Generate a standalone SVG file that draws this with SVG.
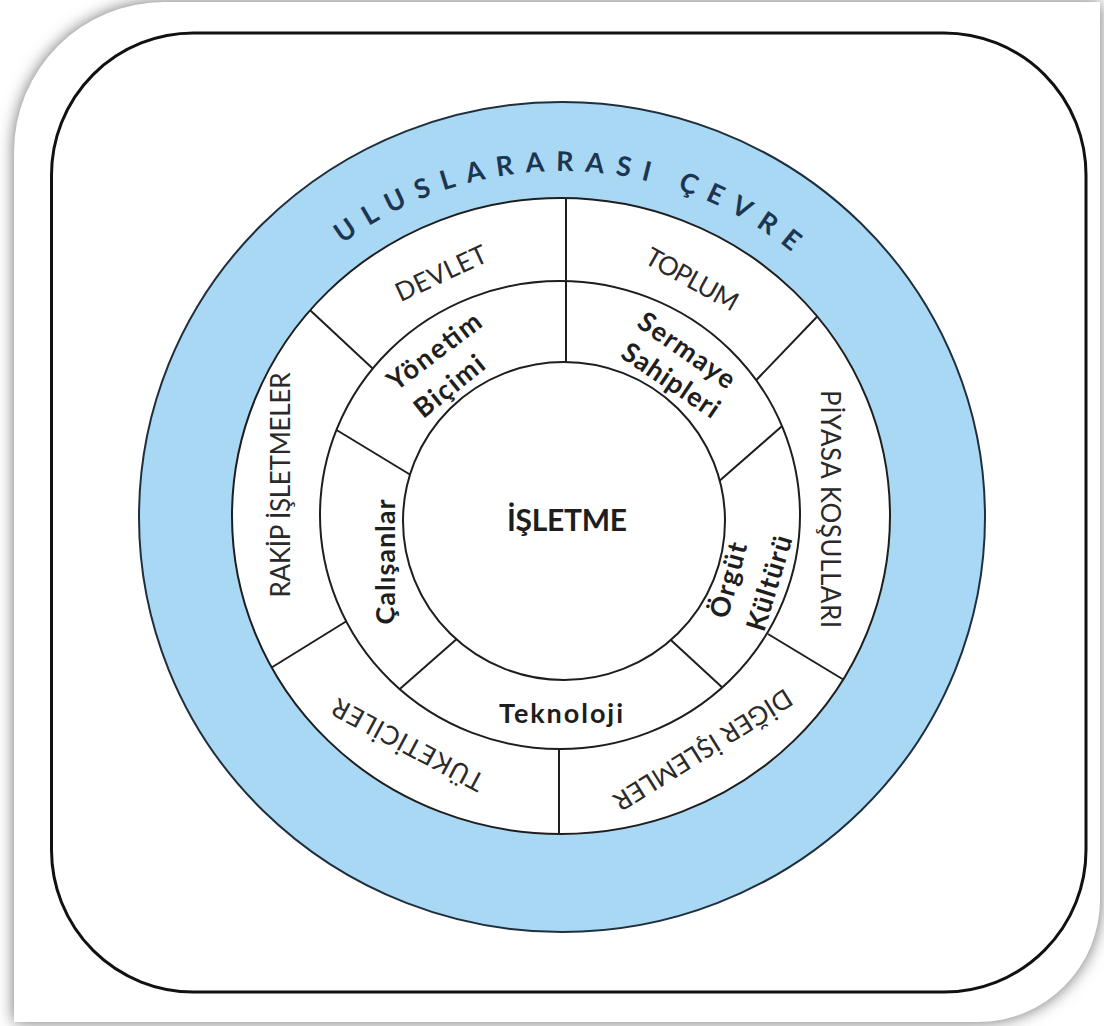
<svg xmlns="http://www.w3.org/2000/svg" width="1104" height="1026" viewBox="0 0 1104 1026">
<defs>
<filter id="shadow" x="-5%" y="-5%" width="110%" height="110%">
<feGaussianBlur stdDeviation="8"/>
</filter>
<path id="arcTop" d="M 205,517 A 357 346 0 0 1 919,517"/>
<clipPath id="ringOuter">
<path clip-rule="evenodd" d="M232,516 A329,318 0 1 0 890,516 A329,318 0 1 0 232,516 Z M320,515 A240,234 0 1 0 800,515 A240,234 0 1 0 320,515 Z"/>
</clipPath>
<clipPath id="ringMid">
<path clip-rule="evenodd" d="M320,515 A240,234 0 1 0 800,515 A240,234 0 1 0 320,515 Z M403,521 A161,159 0 1 0 725,521 A161,159 0 1 0 403,521 Z"/>
</clipPath>
</defs>
<style>
.ring{fill:#ffffff;stroke:#1e1e1e;stroke-width:2}
.blue{fill:#a9d8f4;stroke:#1f2f3d;stroke-width:2}
.div line{stroke:#1e1e1e;stroke-width:2}
.outer{font-family:Lato,"Liberation Sans",sans-serif;font-size:26px;fill:#2a2a2a;text-anchor:middle}
.mid{font-family:Lato,"Liberation Sans",sans-serif;font-weight:bold;font-size:27px;fill:#1e1e1e;text-anchor:middle}
.core{font-family:Lato,"Liberation Sans",sans-serif;font-weight:bold;font-size:30px;fill:#1e1e1e;text-anchor:middle}
.arc{font-family:Lato,"Liberation Sans",sans-serif;font-weight:bold;font-size:27px;fill:#1c3550;letter-spacing:11.5px}
</style>
<rect width="1104" height="1026" fill="#ffffff"/>
<g id="plate">
<path d="M14,152 A150,150 0 0 1 164,2 L1100,2 L1100,900 A122,122 0 0 1 978,1022 L14,1022 Z" fill="#6e6e6e" filter="url(#shadow)"/>
<path d="M14,152 A150,150 0 0 1 164,2 L1100,2 L1100,900 A122,122 0 0 1 978,1022 L14,1022 Z" fill="#ffffff"/>
<rect x="51.5" y="33" width="1034.5" height="959" rx="142" ry="142" fill="#ffffff" stroke="#111111" stroke-width="3"/>
</g>
<g id="uluslararasi-cevre">
<ellipse class="blue" cx="562" cy="517" rx="423" ry="415"/>
<text class="arc"><textPath href="#arcTop" startOffset="51.1%" text-anchor="middle">ULUSLARARASI ÇEVRE</textPath></text>
</g>
<g id="dis-cevre">
<ellipse class="ring" cx="561" cy="516" rx="329" ry="318"/>
</g>
<g id="ic-cevre">
<ellipse class="ring" cx="560" cy="515" rx="240" ry="234"/>
</g>
<g id="isletme">
<ellipse class="ring" cx="564" cy="521" rx="161" ry="159"/>
<text class="core" x="567" y="531" textLength="120" lengthAdjust="spacing">İŞLETME</text>
</g>
<g id="connectors" class="div">
<g clip-path="url(#ringOuter)">
<line x1="566" y1="190" x2="566" y2="292"/>
<line x1="304" y1="304.5" x2="378" y2="373.5"/>
<line x1="822.5" y1="311" x2="753.5" y2="383"/>
<line x1="768" y1="634" x2="849" y2="683"/>
<line x1="559" y1="740" x2="559" y2="842"/>
<line x1="266" y1="671" x2="350" y2="619"/>
</g>
<g clip-path="url(#ringMid)">
<line x1="566" y1="270" x2="566" y2="372"/>
<line x1="330" y1="426" x2="414" y2="477"/>
<line x1="789" y1="420" x2="717" y2="483"/>
<line x1="667" y1="636.5" x2="731" y2="695.5"/>
<line x1="393" y1="695" x2="459" y2="637"/>
</g>
</g>
<g id="devlet" transform="translate(441,273) rotate(-25)"><text class="outer" y="9.3" textLength="98" lengthAdjust="spacing">DEVLET</text></g>
<g id="toplum" transform="translate(692,279) rotate(29)"><text class="outer" y="9.3" textLength="102" lengthAdjust="spacing">TOPLUM</text></g>
<g id="rakip-isletmeler" transform="translate(281,485) rotate(-90)"><text class="outer" y="9.3" textLength="225" lengthAdjust="spacing">RAKİP İŞLETMELER</text></g>
<g id="piyasa-kosullari" transform="translate(830,509) rotate(90)"><text class="outer" y="9.3" textLength="238" lengthAdjust="spacing">PİYASA KOŞULLARI</text></g>
<g id="diger-isletmeler" transform="translate(703,750) rotate(148)"><text class="outer" y="9.3" textLength="205" lengthAdjust="spacing">DİĞER İŞLEMLER</text></g>
<g id="tuketiciler" transform="translate(408,745) rotate(208)"><text class="outer" y="9.3" textLength="168" lengthAdjust="spacing">TÜKETİCİLER</text></g>
<g id="yonetim-bicimi">
<g transform="translate(434,351) rotate(-37)"><text class="mid" y="9.7" textLength="110" lengthAdjust="spacing">Yönetim</text></g>
<g transform="translate(449,386) rotate(-39)"><text class="mid" y="9.7" textLength="82" lengthAdjust="spacing">Biçimi</text></g>
</g>
<g id="sermaye-sahipleri">
<g transform="translate(687,350) rotate(35)"><text class="mid" y="9.7" textLength="112" lengthAdjust="spacing">Sermaye</text></g>
<g transform="translate(671,380) rotate(34)"><text class="mid" y="9.7" textLength="112" lengthAdjust="spacing">Sahipleri</text></g>
</g>
<g id="calisanlar" transform="translate(385,562) rotate(-90)"><text class="mid" y="9.7" textLength="125" lengthAdjust="spacing">Çalışanlar</text></g>
<g id="orgut-kulturu">
<g transform="translate(728,580) rotate(-75)"><text class="mid" y="9.7" textLength="77" lengthAdjust="spacing">Örgüt</text></g>
<g transform="translate(769,583) rotate(-73)"><text class="mid" y="9.7" textLength="98" lengthAdjust="spacing">Kültürü</text></g>
</g>
<g id="teknoloji"><text class="mid" x="561" y="723" textLength="124" lengthAdjust="spacing">Teknoloji</text></g>
</svg>
